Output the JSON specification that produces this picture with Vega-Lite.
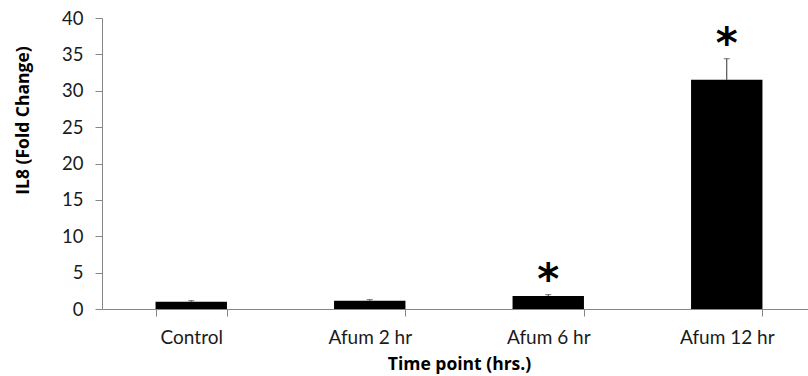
{
  "$schema": "https://vega.github.io/schema/vega-lite/v6.json",
  "autosize": "none",
  "width": 706,
  "height": 291,
  "padding": {"left": 102, "top": 18, "right": 0, "bottom": 67},
  "background": "white",
  "config": {
    "view": {"stroke": null},
    "axisY": {
      "values": [0, 5, 10, 15, 20, 25, 30, 35, 40],
      "labelOverlap": false,
      "grid": false,
      "titleFont": "Open Sans",
      "titleFontWeight": "bold",
      "titleFontSize": 17.5,
      "titleColor": "#000000",
      "titleAngle": -90,
      "titleX": -79,
      "titleY": 102,
      "titleBaseline": "middle",
      "titleAlign": "center",
      "labelFont": "Lato",
      "labelFontSize": 18.5,
      "labelColor": "#1a1a1a",
      "labelPadding": 12,
      "tickSize": 7,
      "tickColor": "#868686",
      "domainColor": "#868686"
    }
  },
  "data": {
    "values": [
      {"group": "Control", "value": 1.0, "upper": 1.14, "sig": ""},
      {"group": "Afum 2 hr", "value": 1.14, "upper": 1.28, "sig": ""},
      {"group": "Afum 6 hr", "value": 1.79, "upper": 1.97, "sig": "*"},
      {"group": "Afum 12 hr", "value": 31.5, "upper": 34.4, "sig": "*"}
    ]
  },
  "encoding": {
    "x": {
      "field": "group",
      "type": "nominal",
      "sort": null,
      "scale": {"range": [0, 714], "paddingInner": 0.6, "paddingOuter": 0.3},
      "axis": {
        "title": "Time point (hrs.)",
        "titleFont": "Open Sans",
        "titleFontWeight": "bold",
        "titleFontSize": 17.5,
        "titleColor": "#000000",
        "titleX": 357,
        "titlePadding": 8,
        "labelFont": "Lato",
        "labelFontSize": 19,
        "labelColor": "#1a1a1a",
        "labelAngle": 0,
        "labelPadding": 12,
        "labelOverlap": false,
        "tickBand": "extent",
        "tickSize": 7,
        "tickColor": "#868686",
        "domainColor": "#868686"
      }
    }
  },
  "layer": [
    {
      "mark": {"type": "bar", "color": "#000000"},
      "encoding": {
        "y": {
          "field": "value",
          "type": "quantitative",
          "scale": {"domain": [0, 40], "nice": false},
          "axis": {"title": "IL8 (Fold Change)", "values": [0, 5, 10, 15, 20, 25, 30, 35, 40]}
        }
      }
    },
    {
      "mark": {"type": "rule", "color": "#303030", "strokeWidth": 1},
      "encoding": {
        "y": {"field": "value", "type": "quantitative", "axis": {"title": "IL8 (Fold Change)", "values": [0, 5, 10, 15, 20, 25, 30, 35, 40]}},
        "y2": {"field": "upper"}
      }
    },
    {
      "mark": {"type": "tick", "color": "#303030", "thickness": 1, "size": 6},
      "encoding": {
        "y": {"field": "upper", "type": "quantitative", "axis": {"title": "IL8 (Fold Change)", "values": [0, 5, 10, 15, 20, 25, 30, 35, 40]}}
      }
    },
    {
      "mark": {"type": "text", "font": "DejaVu Sans", "fontSize": 42, "fontWeight": "bold", "color": "#000000", "baseline": "middle", "dy": -14},
      "encoding": {
        "y": {"field": "upper", "type": "quantitative", "axis": {"title": "IL8 (Fold Change)", "values": [0, 5, 10, 15, 20, 25, 30, 35, 40]}},
        "text": {"field": "sig"}
      }
    }
  ]
}
